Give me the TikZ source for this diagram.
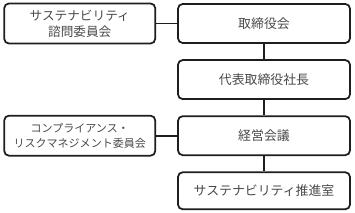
\documentclass[tikz,border=0pt]{standalone}
\usepackage{fontspec}
\newfontfamily\jpfont{Noto Sans CJK JP}
\usetikzlibrary{positioning}
\definecolor{boxframe}{HTML}{1E1E1E}
\definecolor{boxtext}{HTML}{4A4A4A}
\tikzset{
  orgbox/.style={
    draw=boxframe,
    fill=white,
    rounded corners=4pt,
    line width=1.5pt,
    align=center,
    inner sep=2pt,
    text=boxtext,
    font=\jpfont\fontsize{11pt}{13pt}\selectfont
  },
  mainbox/.style={orgbox, minimum width=5.16cm, minimum height=1.17cm},
  sidebox/.style={orgbox, minimum width=4.53cm, minimum height=1.2cm,
    font=\jpfont\fontsize{10.8pt}{13.5pt}\selectfont},
  link/.style={draw=boxframe, line width=1.5pt}
}

\begin{document}
\begin{tikzpicture}[node distance=0.46cm]
  \useasboundingbox (0,0) rectangle (10.65,-6.39);

  % main chain, top to bottom
  \node[mainbox] (board) at (7.92,-0.705) {取締役会};
  \node[mainbox, below=of board] (pres) {代表取締役社長};
  \node[mainbox, below=of pres] (mgmt) {経営会議};
  \node[mainbox, below=of mgmt, minimum height=1.11cm] (office) {サステナビリティ推進室};

  % committees on the left
  \node[sidebox, left=0.63cm of board] (advis) {サステナビリティ\\諮問委員会};
  \node[sidebox, left=0.63cm of mgmt, font=\jpfont\fontsize{9.4pt}{12.5pt}\selectfont] (comp) {コンプライアンス・\\リスクマネジメント委員会};

  \draw[link] (board) -- (pres);
  \draw[link] (pres) -- (mgmt);
  \draw[link] (mgmt) -- (office);
  \draw[link] (advis) -- (board);
  \draw[link] (comp) -- (mgmt);
\end{tikzpicture}
\end{document}
